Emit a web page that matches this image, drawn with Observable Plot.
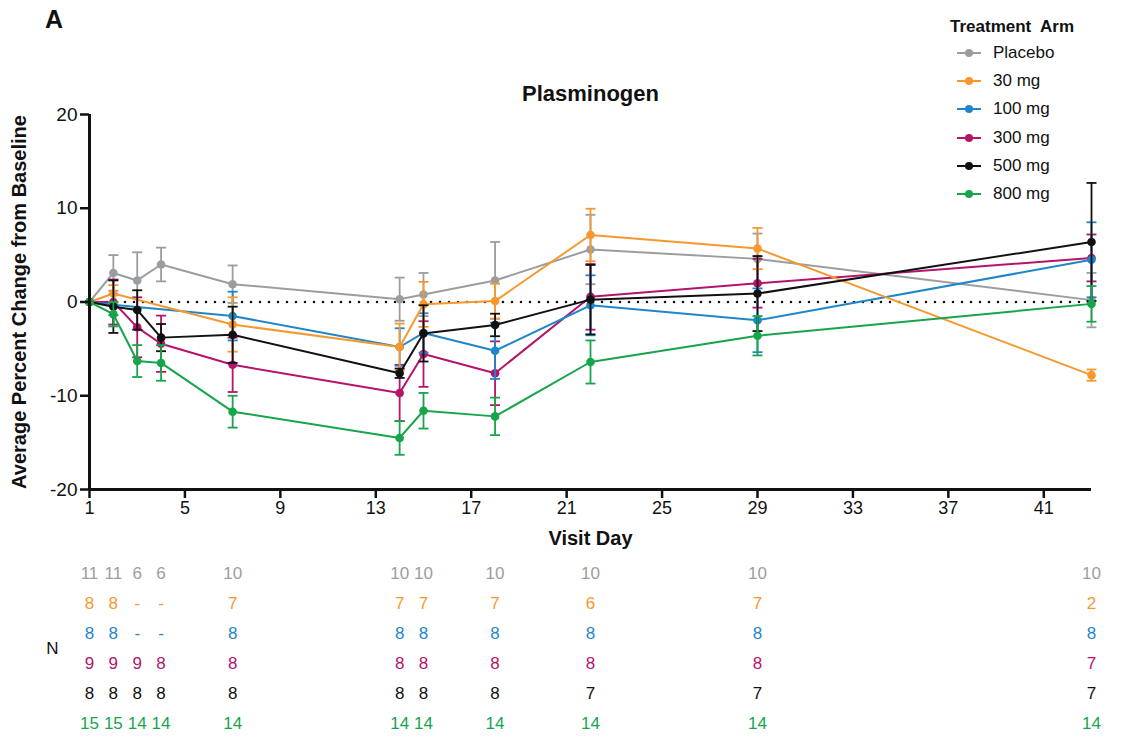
<!DOCTYPE html>
<html><head><meta charset="utf-8">
<script src="https://cdn.jsdelivr.net/npm/d3@7"></script>
<script src="https://cdn.jsdelivr.net/npm/@observablehq/plot@0.6"></script>
<style>
body{margin:0;background:#fff;font-family:"Liberation Sans",Arial,sans-serif;}
#wrap{position:relative;width:1123px;height:738px;overflow:hidden;background:#fff;}
#main{position:absolute;left:0;top:0;}
#ntab{position:absolute;left:0;top:560px;}
.abs{position:absolute;white-space:nowrap;color:#111;}
.leg{position:absolute;left:0;height:20px;line-height:20px;font-size:17px;color:#111;}
.leg svg{position:absolute;left:6px;top:4px;}
.leg span{position:absolute;left:43px;top:0;}
</style></head><body>
<div id="wrap">
<div class="abs" style="left:45px;top:5px;font-size:25px;font-weight:bold;line-height:28px;">A</div>
<div id="main"></div>
<div id="ntab"></div>
<div id="legend" class="abs" style="left:950px;top:0px;width:170px;height:210px;"></div>
</div>
<script>
// ---- data ----
const days = [1, 2, 3, 4, 7, 14, 15, 18, 22, 29, 43];
const arms = ["Placebo", "30 mg", "100 mg", "300 mg", "500 mg", "800 mg"];
const armColors = ["#9a9ea1", "#f7982f", "#1f86c9", "#b5146a", "#111111", "#17a54b"];
const xTicks = [1, 5, 9, 13, 17, 21, 25, 29, 33, 37, 41];
const yTicks = [-20, -10, 0, 10, 20];

const placeboMean = [0, 3.1, 2.3, 4.0, 1.9, 0.3, 0.8, 2.3, 5.6, 4.6, 0.2];
const placeboSem  = [0, 1.9, 3.0, 1.8, 2.0, 2.3, 2.3, 4.1, 3.7, 2.7, 2.9];
const mg30Mean  = [0, 0.9, null, null, -2.4, -4.8, -0.25, 0.1, 7.15, 5.7, -7.8];
const mg30Sem   = [0, 0.9, null, null, 2.9, 2.5, 2.4, 1.85, 2.8, 2.2, 0.6];
const mg100Mean = [0, -0.3, null, null, -1.5, -4.8, -3.3, -5.2, -0.35, -1.95, 4.5];
const mg100Sem  = [0, 1.1, null, null, 2.6, 2.0, 2.1, 3.0, 3.2, 3.4, 4.0];
const mg300Mean = [0, 0.0, -2.7, -4.45, -6.7, -9.7, -5.55, -7.6, 0.55, 2.0, 4.7];
const mg300Sem  = [0, 2.4, 3.2, 3.0, 2.9, 3.0, 3.5, 3.4, 3.5, 2.6, 2.5];
const mg500Mean = [0, -0.5, -0.85, -3.8, -3.5, -7.6, -3.35, -2.45, 0.25, 0.9, 6.4];
const mg500Sem  = [0, 2.8, 2.1, 1.45, 3.0, 0.5, 3.0, 1.2, 3.7, 4.0, 6.3];
const mg800Mean = [0, -1.3, -6.3, -6.5, -11.7, -14.5, -11.6, -12.2, -6.4, -3.6, -0.2];
const mg800Sem  = [0, 1.3, 1.7, 1.9, 1.7, 1.8, 1.9, 2.0, 2.3, 2.1, 1.9];

const nPlacebo = ["11", "11", "6", "6", "10", "10", "10", "10", "10", "10", "10"];
const n30  = ["8", "8", "-", "-", "7", "7", "7", "7", "6", "7", "2"];
const n100 = ["8", "8", "-", "-", "8", "8", "8", "8", "8", "8", "8"];
const n300 = ["9", "9", "9", "8", "8", "8", "8", "8", "8", "8", "7"];
const n500 = ["8", "8", "8", "8", "8", "8", "8", "8", "7", "7", "7"];
const n800 = ["15", "15", "14", "14", "14", "14", "14", "14", "14", "14", "14"];

const seriesMeans = [placeboMean, mg30Mean, mg100Mean, mg300Mean, mg500Mean, mg800Mean];
const seriesSems = [placeboSem, mg30Sem, mg100Sem, mg300Sem, mg500Sem, mg800Sem];
const seriesN = [nPlacebo, n30, n100, n300, n500, n800];

// ---- build tables ----
const points = [];
arms.forEach((arm, i) => days.forEach((day, j) => {
  const m = seriesMeans[i][j];
  if (m !== null) points.push({arm, day, mean: m, sem: seriesSems[i][j]});
}));
const nTable = [];
arms.forEach((arm, i) => days.forEach((day, j) => nTable.push({arm, day, n: seriesN[i][j]})));

const font = '"Liberation Sans", Arial, sans-serif';
const color = {domain: arms, range: armColors};
const capSymbol = {draw(ctx) { ctx.moveTo(-5, 0); ctx.lineTo(5, 0); }};

const drawOrder = ["Placebo", "300 mg", "100 mg", "30 mg", "500 mg", "800 mg"];
const seriesMarks = [];
for (const arm of drawOrder) {
  const pts = points.filter(d => d.arm === arm);
  const eb = pts.filter(d => d.sem > 0);
  seriesMarks.push(
    Plot.ruleX(eb, {x: "day", y1: d => d.mean - d.sem, y2: d => d.mean + d.sem, stroke: "arm", strokeWidth: 1.8}),
    Plot.dot(eb, {x: "day", y: d => d.mean - d.sem, symbol: capSymbol, stroke: "arm", fill: "none", strokeWidth: 1.8, r: 5}),
    Plot.dot(eb, {x: "day", y: d => d.mean + d.sem, symbol: capSymbol, stroke: "arm", fill: "none", strokeWidth: 1.8, r: 5}),
    Plot.line(pts, {x: "day", y: "mean", stroke: "arm", strokeWidth: 2}),
    Plot.dot(pts, {x: "day", y: "mean", fill: "arm", r: 4.3})
  );
}

const main = Plot.plot({
  width: 1123, height: 560,
  marginLeft: 89, marginRight: 32, marginTop: 114, marginBottom: 71,
  style: {fontFamily: font, color: "#111", background: "transparent", overflow: "visible"},
  x: {domain: [1, 43], axis: null},
  y: {domain: [-20, 20], axis: null},
  color,
  marks: [
    Plot.ruleY([0], {stroke: "#111", strokeWidth: 2.6, strokeDasharray: "0 9", strokeLinecap: "round"}),
    ...seriesMarks,
    Plot.ruleX([1], {stroke: "#111", strokeWidth: 3}),
    Plot.ruleY([-20], {stroke: "#111", strokeWidth: 3}),
    Plot.axisY({ticks: yTicks, tickSize: 9, tickPadding: 3, strokeWidth: 2.5, fontSize: 19, tickFormat: d => String(d), label: null, fill: "#111"}),
    Plot.axisX({ticks: xTicks, tickSize: 9, tickPadding: 3, strokeWidth: 2.5, fontSize: 18, tickFormat: d => String(d), label: null, fill: "#111"}),
    Plot.text(["Plasminogen"], {frameAnchor: "top", lineAnchor: "middle", textAnchor: "middle", dy: -21, fontSize: 22, fontWeight: "bold", fill: "#111"}),
    Plot.text(["Visit Day"], {frameAnchor: "bottom", lineAnchor: "middle", textAnchor: "middle", dy: 49, fontSize: 20, fontWeight: "bold", fill: "#111"}),
    Plot.text(["Average Percent Change from Baseline"], {frameAnchor: "left", lineAnchor: "middle", textAnchor: "middle", dx: -70, rotate: -90, fontSize: 20, fontWeight: "bold", fill: "#111"})
  ]
});
document.getElementById("main").appendChild(main);

const ntab = Plot.plot({
  width: 1123, height: 178,
  marginLeft: 89, marginRight: 32, marginTop: 12, marginBottom: 14,
  style: {fontFamily: font, background: "transparent", overflow: "visible"},
  x: {domain: [1, 43], axis: null},
  y: {type: "point", domain: arms, padding: 0, axis: null},
  color,
  marks: [
    Plot.text(nTable, {x: "day", y: "arm", text: "n", fill: "arm", fontSize: 17}),
    Plot.text(["N"], {frameAnchor: "left", textAnchor: "middle", lineAnchor: "middle", dx: -37, fontSize: 17, fill: "#111"})
  ]
});
document.getElementById("ntab").appendChild(ntab);

// ---- legend ----
const leg = d3.select("#legend");
leg.append("div").attr("class", "leg").style("top", "17px").style("font-weight", "bold")
  .html("Treatment&nbsp; Arm");
arms.forEach((arm, i) => {
  const row = leg.append("div").attr("class", "leg").style("top", (43 + i * 28.2) + "px").style("width", "170px");
  const s = row.append("svg").attr("width", 26).attr("height", 12);
  s.append("line").attr("x1", 1).attr("x2", 25).attr("y1", 6).attr("y2", 6).attr("stroke", armColors[i]).attr("stroke-width", 2);
  s.append("circle").attr("cx", 13).attr("cy", 6).attr("r", 4).attr("fill", armColors[i]);
  row.append("span").text(arm);
});
</script>
</body></html>
